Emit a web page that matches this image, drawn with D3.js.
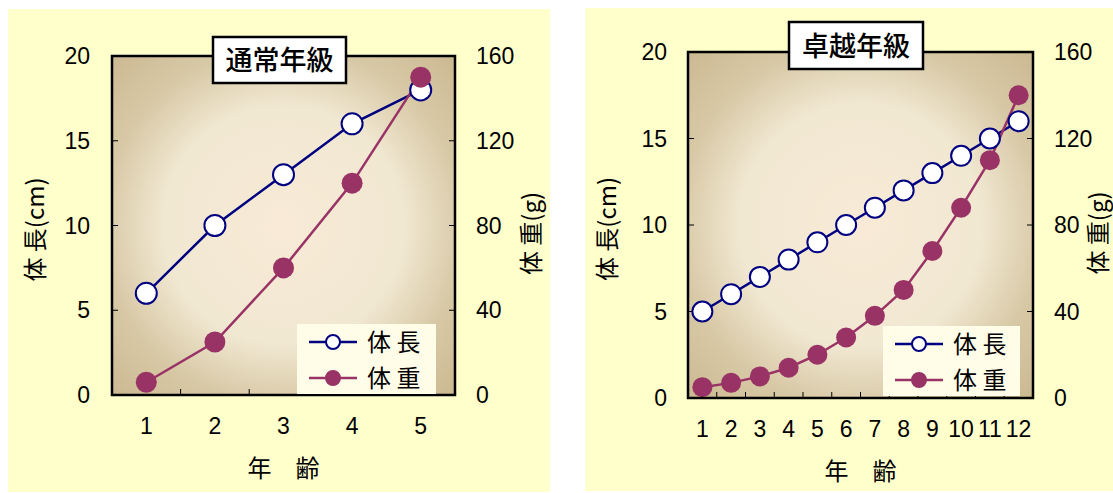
<!DOCTYPE html>
<html lang="ja">
<head>
<meta charset="UTF-8">
<script src="https://d3js.org/d3.v7.min.js"></script>
<style>
  body { margin: 0; background: #fff; }
  text { font-family: "Noto Sans CJK JP", "DejaVu Sans", sans-serif; fill: #000; }
  .num { font-family: "Liberation Sans Narrow", "Liberation Sans", sans-serif; }
</style>
</head>
<body>
<svg id="chart" width="1113" height="493"></svg>
<script>
// 通常年級
const agesA = [1, 2, 3, 4, 5];
const lengthA = [6, 10, 13, 16, 18];
const weightA = [6, 25, 60, 100, 150];
// 卓越年級
const agesB = [1, 2, 3, 4, 5, 6, 7, 8, 9, 10, 11, 12];
const lengthB = [5, 6, 7, 8, 9, 10, 11, 12, 13, 14, 15, 16];
const weightB = [5, 7, 10, 14, 20, 28, 38, 50, 68, 88, 110, 140];
const lengthTicks = [0, 5, 10, 15, 20];
const weightTicks = [0, 40, 80, 120, 160];

const svg = d3.select("#chart");
const defs = svg.append("defs");
const grad = defs.append("radialGradient").attr("id", "plotbg")
  .attr("cx", "50%").attr("cy", "50%").attr("r", "70%");
grad.append("stop").attr("offset", "0%").attr("stop-color", "#f8ead6");
grad.append("stop").attr("offset", "50%").attr("stop-color", "#f1e8d2");
grad.append("stop").attr("offset", "75%").attr("stop-color", "#d8c9a6");
grad.append("stop").attr("offset", "100%").attr("stop-color", "#cbb992");

function panel(o) {
  const g = svg.append("g");
  g.append("rect").attr("x", o.bg[0]).attr("y", o.bg[1]).attr("width", o.bg[2]).attr("height", o.bg[3])
    .attr("fill", "#ffffcc");

  const x = d3.scaleBand().domain(o.ages).range([o.x0, o.x1]);
  const yL = d3.scaleLinear().domain([0, 20]).range([o.y1, o.y0]);
  const yR = d3.scaleLinear().domain([0, 160]).range([o.y1, o.y0]);

  g.append("rect").attr("x", o.x0).attr("y", o.y0).attr("width", o.x1 - o.x0).attr("height", o.y1 - o.y0)
    .attr("fill", "url(#plotbg)");

  g.selectAll(".tl").data(lengthTicks).join("line")
    .attr("x1", o.x0).attr("x2", o.x0 + 6).attr("y1", d => yL(d)).attr("y2", d => yL(d)).attr("stroke", "#000");
  g.selectAll(".tr").data(weightTicks).join("line")
    .attr("x1", o.x1 - 6).attr("x2", o.x1).attr("y1", d => yR(d)).attr("y2", d => yR(d)).attr("stroke", "#000");
  g.selectAll(".tx").data(o.ages.slice(1)).join("line")
    .attr("x1", d => x(d)).attr("x2", d => x(d)).attr("y1", o.y1).attr("y2", o.y1 - 6).attr("stroke", "#000");

  g.selectAll(".ll").data(lengthTicks).join("text").attr("class", "num")
    .attr("x", o.llx).attr("y", d => yL(d) + 8).attr("text-anchor", "end")
    .attr("font-size", 23).text(d => d);
  g.selectAll(".lr").data(weightTicks).join("text").attr("class", "num")
    .attr("x", o.lrx).attr("y", d => yR(d) + 8).attr("font-size", 23).text(d => d);
  g.selectAll(".lx").data(o.ages).join("text").attr("class", "num")
    .attr("x", d => x(d) + x.bandwidth() / 2).attr("y", o.y1 + 39).attr("text-anchor", "middle")
    .attr("font-size", 23).text(d => d);

  g.append("text").attr("transform", `translate(${o.ylx},${(o.y0 + o.y1) / 2 + 4}) rotate(-90)`)
    .attr("text-anchor", "middle").attr("font-size", 24).text("体 長(cm)");
  g.append("text").attr("transform", `translate(${o.yrx},${(o.y0 + o.y1) / 2 + 8}) rotate(-90)`)
    .attr("text-anchor", "middle").attr("font-size", 24).text("体 重(g)");
  g.append("text").attr("x", (o.x0 + o.x1) / 2).attr("y", o.y1 + 82).attr("text-anchor", "middle")
    .attr("font-size", 24).text("年　齢");

  const cx = d => x(d) + x.bandwidth() / 2;
  const lineL = d3.line().x((d, i) => cx(o.ages[i])).y(d => yL(d));
  const lineR = d3.line().x((d, i) => cx(o.ages[i])).y(d => yR(d));
  g.append("path").attr("d", lineL(o.len)).attr("fill", "none").attr("stroke", "#000080").attr("stroke-width", 2.5);
  g.append("path").attr("d", lineR(o.wt)).attr("fill", "none").attr("stroke", "#993366").attr("stroke-width", 2.5);
  g.selectAll(".pl").data(o.len).join("circle")
    .attr("cx", (d, i) => cx(o.ages[i])).attr("cy", d => yL(d)).attr("r", o.r)
    .attr("fill", "#fff").attr("stroke", "#000080").attr("stroke-width", 2);
  g.selectAll(".pw").data(o.wt).join("circle")
    .attr("cx", (d, i) => cx(o.ages[i])).attr("cy", d => yR(d)).attr("r", o.r)
    .attr("fill", "#993366");

  g.append("rect").attr("x", o.x0).attr("y", o.y0).attr("width", o.x1 - o.x0).attr("height", o.y1 - o.y0)
    .attr("fill", "none").attr("stroke", "#000").attr("stroke-width", 2.5);

  const lg = g.append("g").attr("transform", `translate(${o.leg[0]},${o.leg[1]})`);
  lg.append("rect").attr("width", o.leg[2]).attr("height", 70).attr("fill", "#fffde8");
  [["体 長", "#000080", "#fff"], ["体 重", "#993366", "#993366"]].forEach((s, i) => {
    const yy = 18 + i * 36;
    lg.append("line").attr("x1", 12).attr("x2", 60).attr("y1", yy).attr("y2", yy).attr("stroke", s[1]).attr("stroke-width", 2.5);
    lg.append("circle").attr("cx", 36).attr("cy", yy).attr("r", 7).attr("fill", s[2]).attr("stroke", s[1]).attr("stroke-width", 2);
    lg.append("text").attr("x", 70).attr("y", yy + 9).attr("font-size", 24).text(s[0]);
  });

  const t = o.title;
  g.append("rect").attr("x", t[0]).attr("y", t[1]).attr("width", t[2]).attr("height", t[3])
    .attr("fill", "#fff").attr("stroke", "#000").attr("stroke-width", 2.5);
  g.append("text").attr("x", t[0] + t[2] / 2).attr("y", t[1] + t[3] / 2 + 10).attr("text-anchor", "middle")
    .attr("font-size", 27).attr("font-weight", 500).text(t[4]);
}

panel({ bg: [8, 9, 542, 483], ages: agesA, len: lengthA, wt: weightA,
  x0: 112, x1: 455, y0: 56, y1: 395, llx: 90, lrx: 476, ylx: 44, yrx: 540, r: 10.5,
  leg: [297, 324, 139], title: [213, 37, 133, 46, "通常年級"] });
panel({ bg: [585, 8, 528, 483], ages: agesB, len: lengthB, wt: weightB,
  x0: 688, x1: 1033, y0: 52, y1: 398, llx: 667, lrx: 1054, ylx: 616, yrx: 1107, r: 10,
  leg: [883, 326, 137], title: [789, 22, 134, 47, "卓越年級"] });
</script>
</body>
</html>
